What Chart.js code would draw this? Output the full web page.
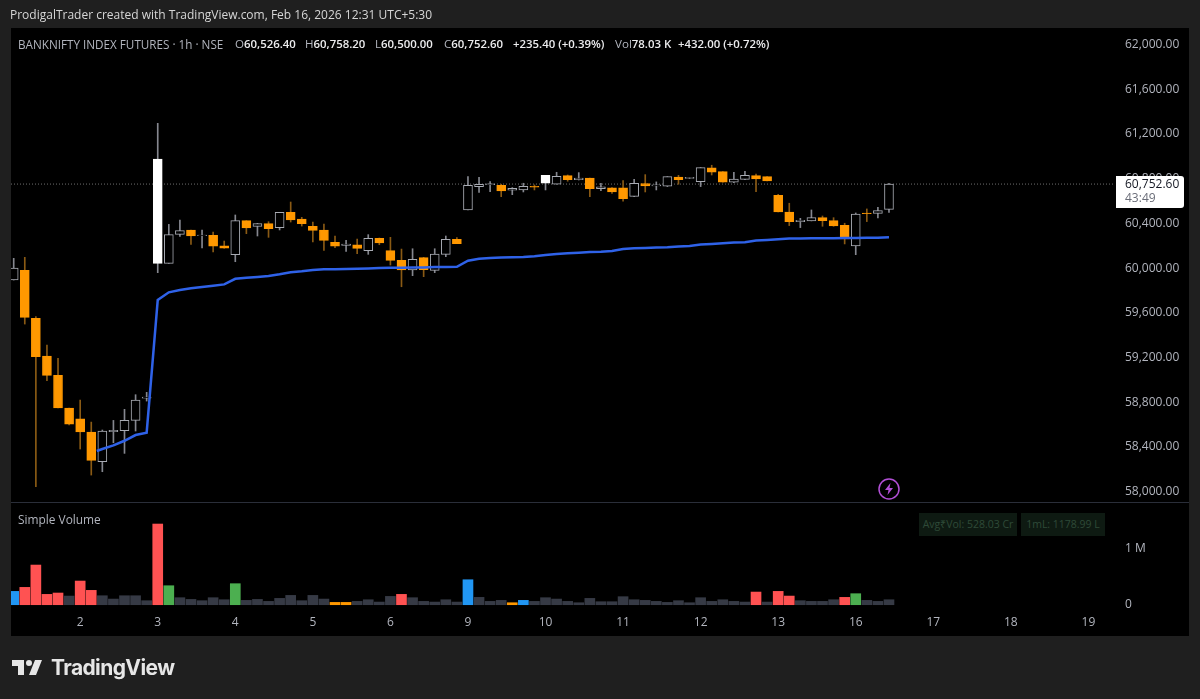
<!DOCTYPE html>
<html>
<head>
<meta charset="utf-8">
<title>BANKNIFTY INDEX FUTURES</title>
<script src="https://cdn.jsdelivr.net/npm/chart.js@4/dist/chart.umd.min.js"></script>
<style>
  html, body { margin: 0; width: 1200px; height: 699px; overflow: hidden; background: #1f1f1f; }
  body { position: relative; font-family: "Open Sans", sans-serif; }
  #panel { position: absolute; left: 11px; top: 28px; width: 1178px; height: 608px; background: #000; }
  #paneLine { position: absolute; left: 11px; top: 502px; width: 1178px; height: 1px; background: #2a2e39; }
  canvas { position: absolute; left: 0; top: 0; }
  .txt { position: absolute; white-space: nowrap; font-size: 11.6px; line-height: 14px; color: #b2b5be; }
  .val { color: #ececee; font-weight: 600; font-size: 11.4px; }
  #lastBox { position: absolute; left: 1116px; top: 176px; width: 68px; height: 32px; background: #fff; border-radius: 0 3px 3px 0; }
  .badge { position: absolute; top: 513px; height: 23px; background: #0e1a12; color: #2e4a38; font-size: 10.5px; line-height: 23px; text-align: center; }
  #logoText { position: absolute; left: 51px; top: 654px; font: 700 21px/28px Inter, sans-serif; color: #e6e6e6; letter-spacing: -0.6px; }
</style>
</head>
<body>
<div id="panel"></div>
<div id="paneLine"></div>
<canvas id="tvChart" width="1200" height="699"></canvas>

<div class="txt" style="left:10px;top:8px;color:#d6d6d6;font-size:12px">ProdigalTrader created with TradingView.com, Feb 16, 2026 12:31 UTC+5:30</div>
<div class="txt" style="left:18px;top:37px;font-size:11.7px">BANKNIFTY INDEX FUTURES · 1h · NSE</div>
<div class="txt" style="left:235px;top:37px">O<span class="val">60,526.40</span></div>
<div class="txt" style="left:305px;top:37px">H<span class="val">60,758.20</span></div>
<div class="txt" style="left:375px;top:37px">L<span class="val">60,500.00</span></div>
<div class="txt" style="left:444px;top:37px">C<span class="val">60,752.60</span></div>
<div class="txt val" style="left:513px;top:37px">+235.40 (+0.39%)</div>
<div class="txt" style="left:615px;top:37px">Vol<span class="val">78.03 K</span></div>
<div class="txt val" style="left:678px;top:37px">+432.00 (+0.72%)</div>
<div class="txt" style="left:18px;top:512px;font-size:11.9px">Simple Volume</div>

<div id="lastBox"></div>
<div class="txt" style="left:1125px;top:177px;color:#131722;font-size:12px">60,752.60</div>
<div class="txt" style="left:1125px;top:191px;color:#6a6d78;font-size:12px">43:49</div>

<div class="badge" style="left:919px;width:98px">Avg₹Vol: 528.03 Cr</div>
<div class="badge" style="left:1021px;width:84px">1mL: 1178.99 L</div>

<svg style="position:absolute;left:877px;top:477px" width="24" height="24" viewBox="0 0 24 24">
  <circle cx="12" cy="12" r="10" fill="none" stroke="#b24fd6" stroke-width="1.5"/>
  <path d="M13.5 6 L8 13 H11.5 L10.5 18 L16 11 H12.5 Z" fill="#b24fd6"/>
</svg>

<svg style="position:absolute;left:10px;top:654px" width="36" height="28" viewBox="0 0 36 28">
  <path fill="#e6e6e6" d="M14 6H2v6h6v9h6V6Zm12 15h-7l6-15h7l-6 15Zm-7-9a3 3 0 1 0 0-6 3 3 0 0 0 0 6Z"/>
</svg>
<div id="logoText">TradingView</div>

<script>
const opens = [
  59894, 59981, 59551, 59214, 59041, 58749, 58653, 58534, 58268, 58537,
  58546, 58638, 58838, 60043, 60043, 60303, 60342, 60291, 60294, 60201,
  60121, 60425, 60374, 60398, 60362, 60500, 60440, 60374, 60342, 60231,
  60204, 60210, 60157, 60267, 60157, 60070, 59984, 60094, 59981, 60124,
  60258, 60521, 60730, 60748, 60742, 60697, 60700, 60733, 60760, 60751,
  60828, 60792, 60807, 60712, 60718, 60718, 60643, 60757, 60736, 60733,
  60816, 60804, 60775, 60897, 60864, 60769, 60795, 60828, 60819, 60652,
  60503, 60417, 60423, 60452, 60426, 60384, 60199, 60494, 60491, 60526.4
];
const highs = [
  60088, 60097, 59566, 59312, 59193, 58749, 58820, 58623, 58552, 58638,
  58737, 58868, 58889, 61296, 60392, 60431, 60342, 60342, 60324, 60243,
  60476, 60425, 60401, 60416, 60500, 60592, 60455, 60413, 60395, 60288,
  60249, 60261, 60300, 60270, 60276, 60171, 60174, 60097, 60174, 60288,
  60273, 60819, 60813, 60775, 60751, 60721, 60760, 60745, 60831, 60858,
  60834, 60855, 60807, 60760, 60721, 60784, 60795, 60837, 60772, 60819,
  60831, 60813, 60900, 60921, 60864, 60858, 60867, 60843, 60819, 60661,
  60581, 60446, 60521, 60467, 60452, 60402, 60494, 60530, 60545, 60758.2
];
const lows = [
  59894, 59500, 58045, 58993, 58749, 58597, 58382, 58149, 58179, 58438,
  58343, 58543, 58811, 59960, 60043, 60285, 60213, 60181, 60145, 60178,
  60058, 60309, 60288, 60276, 60342, 60413, 60377, 60234, 60160, 60183,
  60151, 60130, 60124, 60210, 60028, 59834, 59933, 59924, 59960, 60103,
  60219, 60521, 60679, 60685, 60640, 60658, 60682, 60700, 60700, 60751,
  60778, 60789, 60640, 60694, 60670, 60599, 60640, 60682, 60700, 60730,
  60751, 60801, 60730, 60834, 60769, 60766, 60792, 60685, 60781, 60503,
  60381, 60363, 60423, 60375, 60375, 60217, 60121, 60417, 60449, 60500
];
const closes = [
  60001, 59560, 59208, 59041, 58749, 58605, 58534, 58280, 58543, 58549,
  58638, 58820, 58847, 60977, 60300, 60336, 60288, 60297, 60198, 60178,
  60425, 60360, 60398, 60353, 60500, 60431, 60398, 60339, 60249, 60198,
  60216, 60177, 60267, 60225, 60070, 59984, 60079, 59987, 60127, 60258,
  60219, 60741, 60751, 60754, 60691, 60715, 60733, 60724, 60831, 60822,
  60792, 60807, 60712, 60727, 60682, 60622, 60760, 60736, 60745, 60819,
  60792, 60813, 60900, 60858, 60769, 60798, 60831, 60798, 60781, 60503,
  60417, 60429, 60452, 60426, 60378, 60262, 60485, 60488, 60515, 60752.6
];
const solidWhiteBars = [13, 48];

const vwapBars = [
  7.5, 8, 9, 10, 11, 12, 13, 14, 15, 16, 17, 18, 19, 20, 21, 22, 23, 24, 25, 26,
  27, 28, 29, 30, 31, 32, 33, 34, 35, 36, 37, 38, 39, 40, 41, 42, 43, 44, 45, 46,
  47, 48, 49, 50, 51, 52, 53, 54, 55, 56, 57, 58, 59, 60, 61, 62, 63, 64, 65, 66,
  67, 68, 69, 70, 71, 72, 73, 74, 75, 76, 77, 78, 79
];
const vwapValues = [
  58364, 58382, 58415, 58456, 58507, 58528, 59715, 59784, 59805, 59820,
  59832, 59843, 59855, 59905, 59915, 59922, 59931, 59946, 59964, 59972,
  59984, 59990, 59990, 59993, 59996, 59998, 60001, 60004, 60004, 60007,
  60007, 60010, 60010, 60013, 60067, 60085, 60092, 60095, 60098, 60100,
  60106, 60118, 60127, 60133, 60139, 60145, 60148, 60154, 60172, 60178,
  60181, 60184, 60187, 60193, 60199, 60211, 60217, 60223, 60229, 60232,
  60247, 60253, 60259, 60265, 60265, 60267, 60267, 60267, 60270, 60270,
  60273, 60273, 60276
];

const volumes = [
  236000, 307000, 702000, 183000, 207000, 153000, 419000, 254000, 159000, 100000,
  159000, 159000, 71000, 1428000, 336000, 124000, 94000, 71000, 124000, 88000,
  372000, 77000, 94000, 59000, 112000, 165000, 71000, 165000, 100000, 41000,
  41000, 59000, 88000, 47000, 147000, 183000, 124000, 59000, 47000, 88000,
  47000, 442000, 130000, 59000, 77000, 35000, 77000, 59000, 124000, 100000,
  59000, 35000, 112000, 53000, 53000, 142000, 88000, 77000, 59000, 41000,
  71000, 35000, 124000, 59000, 88000, 59000, 47000, 224000, 47000, 236000,
  153000, 71000, 59000, 59000, 88000, 130000, 195000, 77000, 59000, 88000
];
const redVolumeBars = [1, 2, 3, 4, 6, 7, 13, 35, 67, 69, 70, 75];
const greenVolumeBars = [14, 20, 76];
const blueVolumeBars = [0, 41, 46];
const orangeVolumeBars = [29, 30, 45];

const priceTicks = [58000, 58400, 58800, 59200, 59600, 60000, 60400, 60800, 61200, 61600, 62000];
const volumeTicks = [0, 1000000];
const dayTicks = [6, 13, 20, 27, 34, 41, 48, 55, 62, 69, 76, 83, 90, 97];
const dayLabels = ["2", "3", "4", "5", "6", "9", "10", "11", "12", "13", "16", "17", "18", "19"];

const ORANGE = "#ff9800";
const HOLLOW_EDGE = "#a8abb3";
const axisFont = { family: "Open Sans", size: 12 };
const xMin = -0.244;
const xMax = 99.4;

function isUp(i) {
  return closes[i] >= opens[i];
}

function volumeColor(i) {
  if (redVolumeBars.includes(i)) return "#ff5252";
  if (greenVolumeBars.includes(i)) return "#4caf50";
  if (blueVolumeBars.includes(i)) return "#2196f3";
  if (orangeVolumeBars.includes(i)) return ORANGE;
  return "#363a45";
}

new Chart(document.getElementById("tvChart").getContext("2d"), {
  type: "bar",
  data: {
    datasets: [
      {
        label: "Wicks",
        order: 3,
        yAxisID: "y",
        grouped: false,
        barThickness: 1,
        data: opens.map((_, i) => ({ x: i, y: [lows[i], highs[i]] })),
        backgroundColor: (ctx) => (isUp(ctx.dataIndex) ? "#85878f" : "#8a5a14")
      },
      {
        label: "Bodies",
        order: 2,
        yAxisID: "y",
        grouped: false,
        barThickness: 9,
        borderWidth: 1,
        borderSkipped: false,
        data: opens.map((open, i) => ({ x: i, y: [open, closes[i]] })),
        backgroundColor: (ctx) => {
          if (!isUp(ctx.dataIndex)) return ORANGE;
          return solidWhiteBars.includes(ctx.dataIndex) ? "#ffffff" : "#000000";
        },
        borderColor: (ctx) => {
          if (!isUp(ctx.dataIndex)) return ORANGE;
          return solidWhiteBars.includes(ctx.dataIndex) ? "#ffffff" : HOLLOW_EDGE;
        }
      },
      {
        type: "line",
        label: "VWAP",
        order: 0,
        yAxisID: "y",
        data: vwapBars.map((bar, i) => ({ x: bar, y: vwapValues[i] })),
        borderColor: "#2f62e8",
        borderWidth: 2.5,
        pointRadius: 0,
        tension: 0
      },
      {
        type: "line",
        label: "Last price",
        order: 4,
        yAxisID: "y",
        data: [
          { x: xMin, y: closes[closes.length - 1] },
          { x: xMax, y: closes[closes.length - 1] }
        ],
        borderColor: "#6e6e6e",
        borderWidth: 1,
        borderDash: [1, 2],
        pointRadius: 0
      },
      {
        label: "Simple Volume",
        order: 1,
        yAxisID: "vol",
        grouped: false,
        barThickness: 10,
        data: volumes.map((v, i) => ({ x: i, y: v })),
        backgroundColor: (ctx) => volumeColor(ctx.dataIndex)
      }
    ]
  },
  options: {
    responsive: false,
    animation: false,
    layout: { padding: { left: 11, right: 11, top: 28, bottom: 63 } },
    plugins: {
      legend: { display: false },
      tooltip: { enabled: false }
    },
    scales: {
      x: {
        type: "linear",
        offset: false,
        min: xMin,
        max: xMax,
        grid: { display: false, drawTicks: false },
        border: { display: false },
        afterBuildTicks: (axis) => {
          axis.ticks = dayTicks.map((value) => ({ value }));
        },
        afterFit: (axis) => {
          axis.height = 24;
        },
        ticks: {
          autoSkip: false,
          maxRotation: 0,
          padding: 3,
          color: "#b2b5be",
          font: axisFont,
          callback: (value) => dayLabels[dayTicks.indexOf(value)]
        }
      },
      y: {
        position: "right",
        stack: "panes",
        stackWeight: 474,
        min: 57908,
        max: 62149,
        grid: { display: false, drawTicks: false },
        border: { display: false },
        afterBuildTicks: (axis) => {
          axis.ticks = priceTicks.map((value) => ({ value }));
        },
        afterFit: (axis) => {
          axis.width = 74;
        },
        ticks: {
          padding: 10,
          color: "#b2b5be",
          font: axisFont,
          callback: (value) => value.toLocaleString("en-US", { minimumFractionDigits: 2 })
        }
      },
      vol: {
        position: "right",
        stack: "panes",
        stackWeight: 110,
        min: -129000,
        max: 1818000,
        grid: { display: false, drawTicks: false },
        border: { display: false },
        afterBuildTicks: (axis) => {
          axis.ticks = volumeTicks.map((value) => ({ value }));
        },
        afterFit: (axis) => {
          axis.width = 74;
        },
        ticks: {
          padding: 10,
          color: "#b2b5be",
          font: axisFont,
          callback: (value) => (value === 0 ? "0" : "1 M")
        }
      }
    }
  }
});
</script>
</body>
</html>
